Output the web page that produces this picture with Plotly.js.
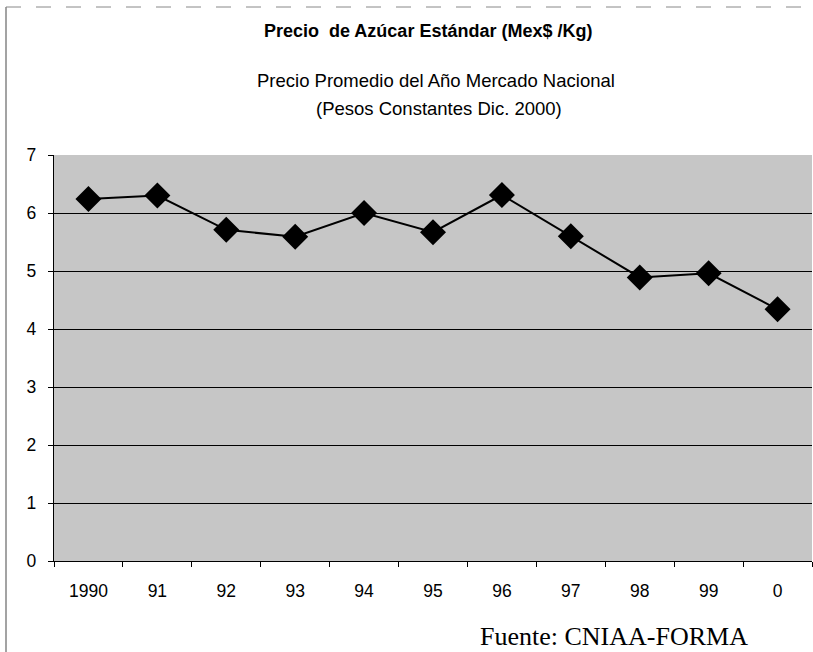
<!DOCTYPE html>
<html>
<head>
<meta charset="utf-8">
<script src="https://cdn.plot.ly/plotly-3.0.1.min.js"></script>
<style>html,body{margin:0;padding:0;background:#fff;}#chart{width:813px;height:652px;}</style>
</head>
<body>
<div id="chart"></div>
<script>
const years = ["1990","91","92","93","94","95","96","97","98","99","0"];
const prices = [6.24, 6.30, 5.71, 5.59, 6.00, 5.67, 6.31, 5.60, 4.89, 4.96, 4.34];
const yTicks = [0,1,2,3,4,5,6,7];

const trace = {
  x: years, y: prices, type: 'scatter', mode: 'lines+markers',
  line: {color: '#000', width: 2},
  marker: {symbol: 'diamond', size: 20, color: '#000'},
  hoverinfo: 'skip', cliponaxis: false
};

const L = 54; // plot left in px
const layout = {
  width: 813, height: 652,
  margin: {l: L, r: 1, t: 155, b: 91},
  paper_bgcolor: '#ffffff',
  plot_bgcolor: '#c6c6c6',
  showlegend: false,
  font: {family: 'Liberation Sans, Arial, sans-serif', color: '#000'},
  xaxis: {
    type: 'category', tickvals: years, ticktext: years,
    ticks: 'outside', tickson: 'boundaries', ticklen: 5, tickcolor: '#000',
    showline: true, linecolor: '#000', linewidth: 1.2,
    showgrid: false, zeroline: false,
    tickfont: {size: 17.5}, ticklabelstandoff: 14,
    range: [-0.5, 10.5], fixedrange: true
  },
  yaxis: {
    range: [0, 7], tickvals: yTicks, ticktext: yTicks.map(String),
    ticks: 'outside', ticklen: 5, tickcolor: '#000',
    showline: true, linecolor: '#000', linewidth: 1.2,
    showgrid: true, gridcolor: '#000', gridwidth: 1,
    zeroline: false, tickfont: {size: 17.5}, ticklabelstandoff: 8,
    fixedrange: true
  },
  annotations: [
    {text: '<b>Precio  de Azúcar Estándar (Mex$ /Kg)</b>', xref: 'paper', yref: 'paper',
     x: 0, xshift: 428 - L, y: 1, yshift: 124, showarrow: false, font: {size: 18}, xanchor: 'center', yanchor: 'middle'},
    {text: 'Precio Promedio del Año Mercado Nacional', xref: 'paper', yref: 'paper',
     x: 0, xshift: 436 - L, y: 1, yshift: 75, showarrow: false, font: {size: 18.5}, xanchor: 'center', yanchor: 'middle'},
    {text: '(Pesos Constantes Dic. 2000)', xref: 'paper', yref: 'paper',
     x: 0, xshift: 439 - L, y: 1, yshift: 47, showarrow: false, font: {size: 18.5}, xanchor: 'center', yanchor: 'middle'},
    {text: 'Fuente: CNIAA-FORMA', xref: 'paper', yref: 'paper',
     x: 0, xshift: 614 - L, y: 0, yshift: -75, showarrow: false,
     font: {size: 26, family: 'Liberation Serif, Times New Roman, serif'}, xanchor: 'center', yanchor: 'middle'}
  ],
  shapes: [
    {type: 'line', xref: 'paper', yref: 'paper', x0: -48/758, x1: -48/758, y0: (561-7)/406, y1: -91/406,
     line: {color: '#666', width: 1.2}},
    {type: 'line', xref: 'paper', yref: 'paper', x0: -48/758, x1: 1.002, y0: (561-7)/406, y1: (561-7)/406,
     line: {color: '#888', width: 1, dash: 'longdash'}}
  ]
};

Plotly.newPlot('chart', [trace], layout, {displayModeBar: false, staticPlot: true});
</script>
</body>
</html>
